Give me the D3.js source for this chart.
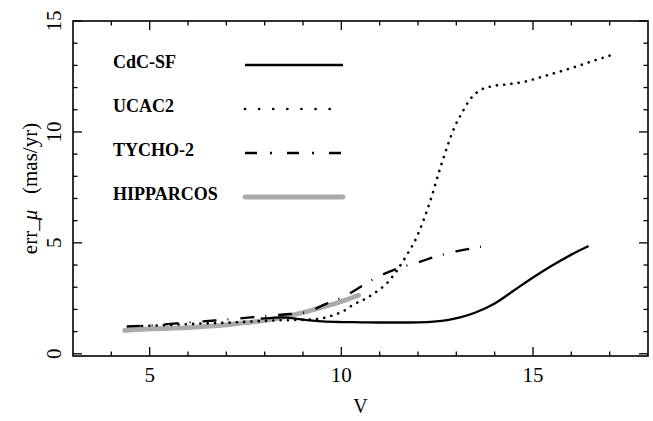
<!DOCTYPE html>
<html>
<head>
<meta charset="utf-8">
<script src="https://cdn.jsdelivr.net/npm/d3@7"></script>
<style>
  body { margin: 0; background: #fff; }
  svg text { fill: #000; }
</style>
</head>
<body>
<div id="chart"></div>
<script>
// values (V magnitude vs proper motion error)
let seriesNames = ["CdC-SF", "UCAC2", "TYCHO-2", "HIPPARCOS"]

let cdcV   = [7.9, 8.2, 8.5, 8.8, 9.1, 9.5, 10, 10.5, 11, 11.5, 12, 12.4, 12.8, 13.1, 13.5, 14, 14.5, 15, 15.5, 16, 16.45]
let cdcErr = [1.58, 1.62, 1.64, 1.58, 1.52, 1.46, 1.43, 1.42, 1.41, 1.41, 1.42, 1.45, 1.53, 1.64, 1.86, 2.27, 2.85, 3.44, 3.98, 4.47, 4.86]

let ucacV   = [4.8, 5.5, 6.3, 7, 7.6, 8.2, 8.8, 9.2, 9.5, 9.8, 10.05, 10.3, 10.65, 10.9, 11.2, 11.45, 11.7, 11.95, 12.15, 12.35, 12.55, 12.75, 12.95, 13.15, 13.35, 13.6, 13.9, 14.3, 14.8, 15.2, 15.7, 16.2, 16.6, 17.02]
let ucacErr = [1.25, 1.3, 1.36, 1.4, 1.45, 1.5, 1.52, 1.54, 1.6, 1.75, 1.92, 2.2, 2.5, 2.78, 3.2, 3.75, 4.43, 5.2, 6.05, 7.05, 8.2, 9.27, 10.2, 10.87, 11.45, 11.86, 12.05, 12.14, 12.27, 12.47, 12.72, 12.99, 13.22, 13.45]

let tychoV   = [4.4, 5, 5.7, 6.7, 7.5, 8, 8.5, 9.1, 9.6, 10, 10.6, 10.9, 11.5, 12, 12.5, 13, 13.5, 13.85]
let tychoErr = [1.23, 1.28, 1.37, 1.5, 1.62, 1.7, 1.77, 1.88, 2.25, 2.52, 3.12, 3.42, 3.86, 4.12, 4.4, 4.62, 4.78, 4.88]

let hipV   = [4.35, 5, 6, 7, 7.5, 8, 8.5, 9, 9.5, 10, 10.45]
let hipErr = [1.05, 1.12, 1.18, 1.3, 1.4, 1.5, 1.65, 1.86, 2.1, 2.36, 2.64]

let xMajor = [5, 10, 15]
let yMajor = [0, 5, 10, 15]

let width = 653, height = 421
let margin = { top: 21, right: 5, bottom: 65, left: 73 }
let serif = "'Liberation Serif', 'Times New Roman', serif"

let svg = d3.select("#chart").append("svg")
    .attr("width", width)
    .attr("height", height)

let x = d3.scaleLinear().domain([3, 18]).range([margin.left, width - margin.right])
let y = d3.scaleLinear().domain([-0.1, 15]).range([height - margin.bottom, margin.top])

let x0 = x.range()[0], x1 = x.range()[1]
let y0 = y.range()[0], y1 = y.range()[1]

// ticks on all four sides, pointing inward
let xMinor = d3.range(4, 18).filter(v => !xMajor.includes(v))
let yMinor = d3.range(1, 15).filter(v => !yMajor.includes(v))

let tickG = svg.append("g").attr("stroke", "#000").attr("stroke-width", 1.3)
xMajor.concat(xMinor).forEach(v => {
    let len = xMajor.includes(v) ? 9 : 4.5
    tickG.append("line").attr("x1", x(v)).attr("x2", x(v)).attr("y1", y0).attr("y2", y0 - len)
    tickG.append("line").attr("x1", x(v)).attr("x2", x(v)).attr("y1", y1).attr("y2", y1 + len)
})
yMajor.concat(yMinor).forEach(v => {
    let len = yMajor.includes(v) ? 9 : 4.5
    tickG.append("line").attr("y1", y(v)).attr("y2", y(v)).attr("x1", x0).attr("x2", x0 + len)
    tickG.append("line").attr("y1", y(v)).attr("y2", y(v)).attr("x1", x1).attr("x2", x1 - len)
})

svg.append("rect")
    .attr("x", x0).attr("y", y1)
    .attr("width", x1 - x0).attr("height", y0 - y1)
    .attr("fill", "none").attr("stroke", "#000").attr("stroke-width", 1.6)

// tick labels
svg.append("g").selectAll("text").data(xMajor).enter().append("text")
    .attr("x", d => x(d)).attr("y", 382)
    .attr("text-anchor", "middle")
    .attr("font-family", serif)
    .attr("font-size", 21)
    .text(d => d)

svg.append("g").selectAll("text").data(yMajor).enter().append("text")
    .attr("transform", d => "translate(54," + y(d) + ") rotate(-90)")
    .attr("text-anchor", "middle")
    .attr("dominant-baseline", "central")
    .attr("font-family", serif)
    .attr("font-size", 21)
    .text(d => d)

// axis titles
svg.append("text")
    .attr("x", (x0 + x1) / 2).attr("y", 413)
    .attr("text-anchor", "middle")
    .attr("font-family", serif)
    .attr("font-size", 20)
    .text("V")

let yl = svg.append("text")
    .attr("transform", "translate(37," + (y0 + y1) / 2 + ") rotate(-90)")
    .attr("text-anchor", "middle")
    .attr("font-family", serif)
    .attr("font-size", 21)
    .style("white-space", "pre")
yl.append("tspan").text("err_")
yl.append("tspan").style("font-style", "italic").text("μ")
yl.append("tspan").text("   (mas/yr)")

// curves
let line = d3.line().x(d => x(d[0])).y(d => y(d[1])).curve(d3.curveMonotoneX)
let pairs = (vs, es) => vs.map((v, i) => [v, es[i]])

let styles = [
    { data: pairs(cdcV, cdcErr), color: "#000", w: 2.3, dash: null, cap: "butt", legDash: null },
    { data: pairs(ucacV, ucacErr), color: "#000", w: 2.6, dash: "0.1 7.2", cap: "round", legDash: "0.1 14" },
    { data: pairs(tychoV, tychoErr), color: "#000", w: 2.3, dash: "14 11 1 12", cap: "butt", legDash: "12 13 2 15" },
    { data: pairs(hipV, hipErr), color: "#aaaaaa", w: 4.8, dash: null, cap: "round", legDash: null }
]

// draw gray first so black lines sit on top
let order = [3, 0, 1, 2]
order.forEach(i => {
    let s = styles[i]
    svg.append("path")
        .datum(s.data)
        .attr("d", line)
        .attr("fill", "none")
        .attr("stroke", s.color)
        .attr("stroke-width", s.w)
        .attr("stroke-linecap", s.cap)
        .attr("stroke-dasharray", s.dash)
})

// legend
let legY = [62, 106, 150, 194]
seriesNames.forEach((name, i) => {
    let s = styles[i]
    svg.append("text")
        .attr("x", 113).attr("y", legY[i])
        .attr("dominant-baseline", "central")
        .attr("font-family", serif)
        .attr("font-weight", "bold")
        .attr("font-size", 18)
        .text(name)
    svg.append("line")
        .attr("x1", 245).attr("x2", 343)
        .attr("y1", legY[i] + 3).attr("y2", legY[i] + 3)
        .attr("stroke", s.color)
        .attr("stroke-width", s.w)
        .attr("stroke-linecap", s.cap)
        .attr("stroke-dasharray", s.legDash)
})
</script>
</body>
</html>
